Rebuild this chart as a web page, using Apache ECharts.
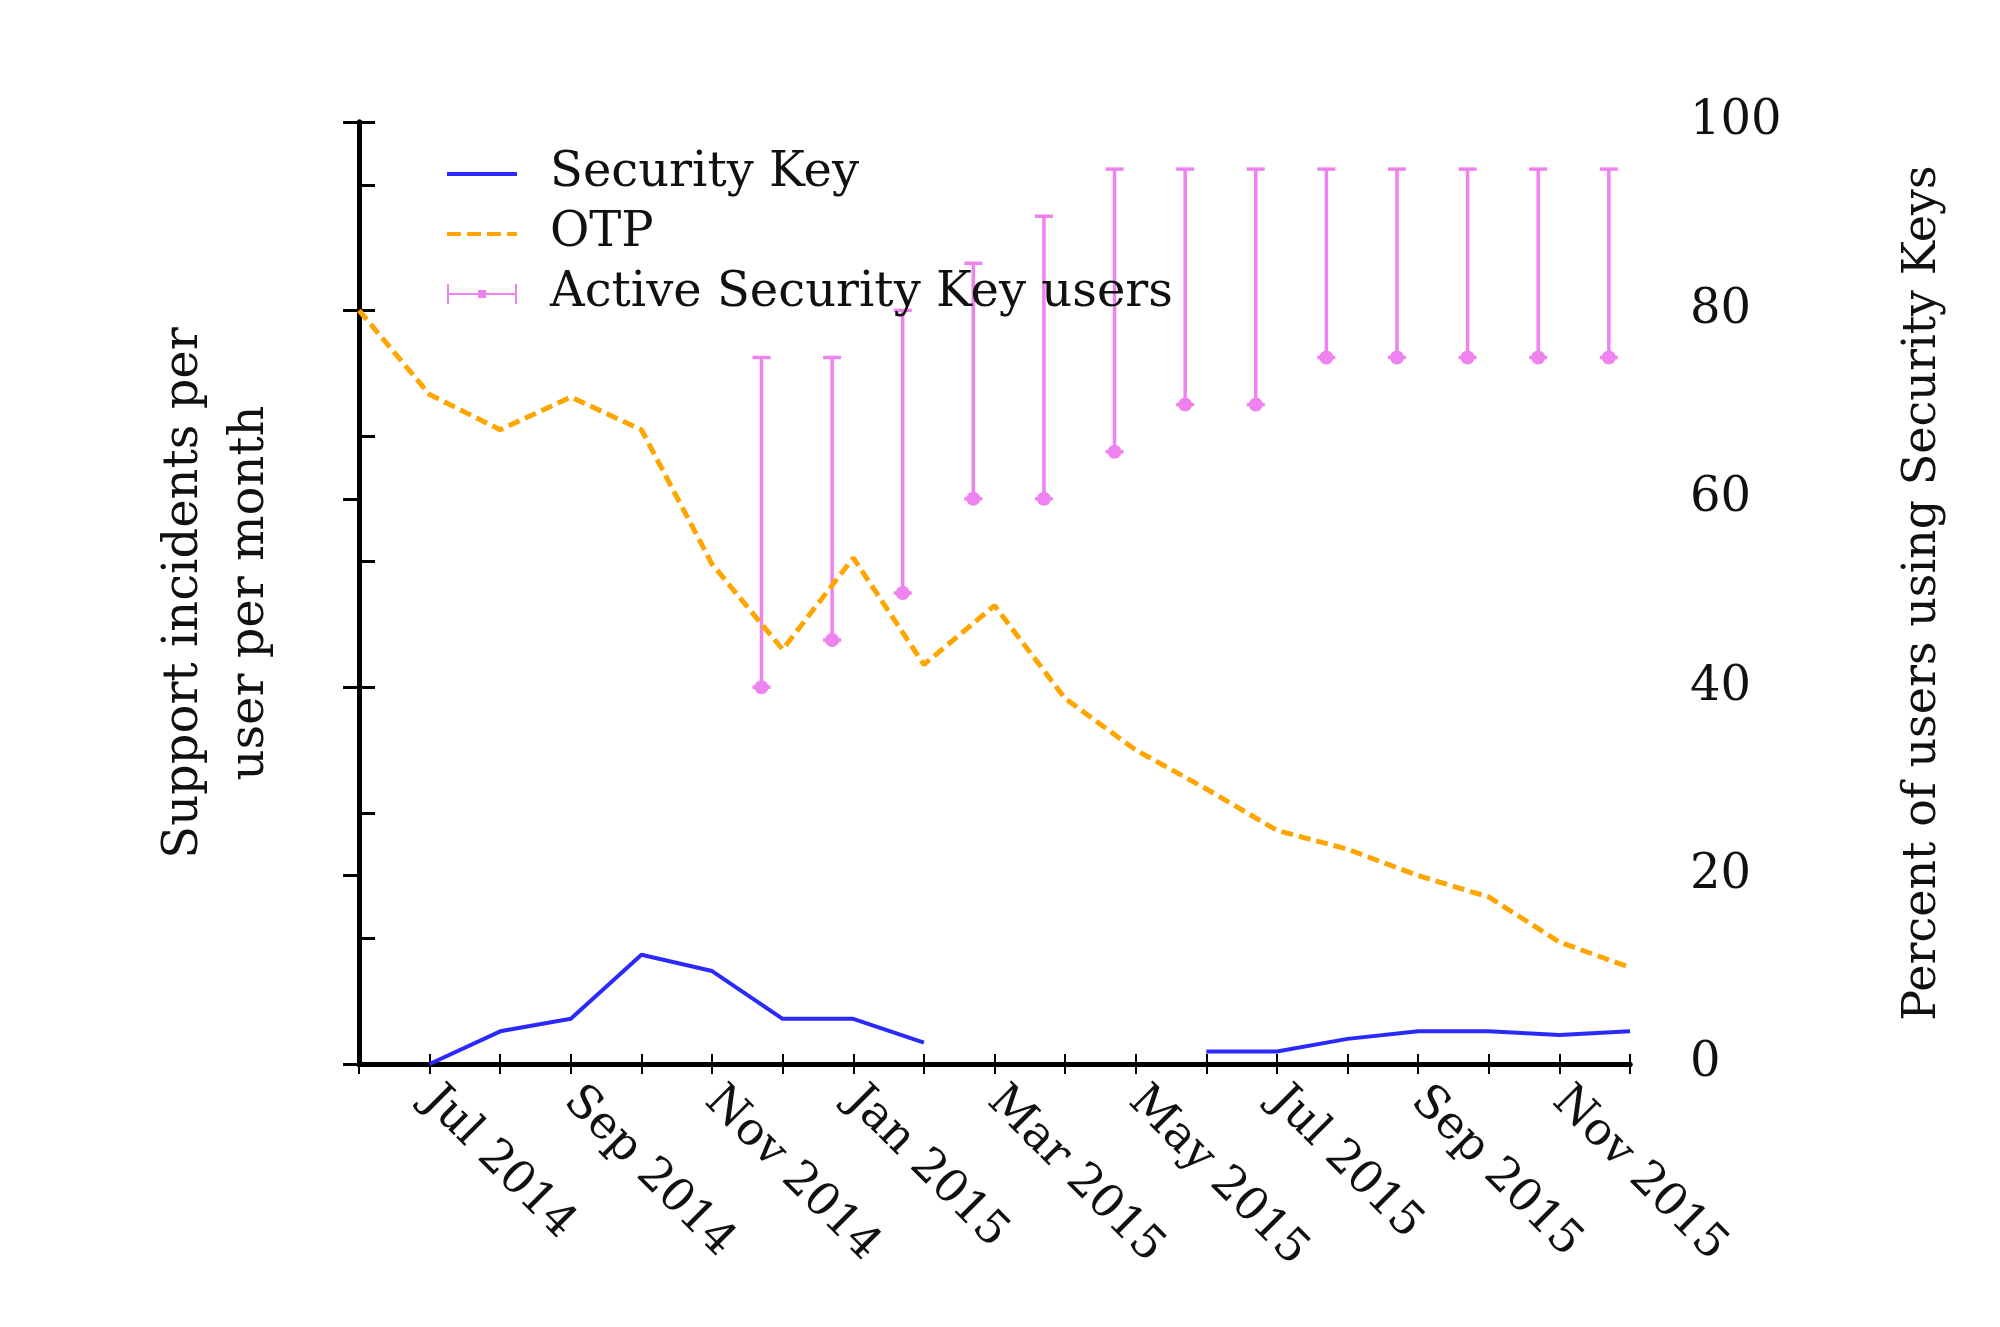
<!DOCTYPE html>
<html>
<head>
<meta charset="utf-8">
<script src="https://cdn.jsdelivr.net/npm/echarts@6/dist/echarts.min.js"></script>
<style>html,body{margin:0;background:#fff}#chart{width:2000px;height:1327px}</style>
</head>
<body>
<div id="chart"></div>
<script>
// 月份标签 (x = 0 为 Jun 2014)
var months = ['Jun 2014', 'Jul 2014', 'Aug 2014', 'Sep 2014', 'Oct 2014', 'Nov 2014', 'Dec 2014',
  'Jan 2015', 'Feb 2015', 'Mar 2015', 'Apr 2015', 'May 2015', 'Jun 2015', 'Jul 2015', 'Aug 2015',
  'Sep 2015', 'Oct 2015', 'Nov 2015', 'Dec 2015'];
var otp = [6.0, 5.33, 5.05, 5.31, 5.05, 3.98, 3.3, 4.03, 3.18, 3.65, 2.91, 2.5, 2.19, 1.86, 1.71, 1.5, 1.33, 0.97, 0.77];
var securityKey = [null, 0, 0.26, 0.36, 0.87, 0.74, 0.36, 0.36, 0.17, null, null, null, 0.1, 0.1, 0.2, 0.26, 0.26, 0.23, 0.26];
// 用户比例误差线
var activeX = [5.7, 6.7, 7.7, 8.7, 9.7, 10.7, 11.7, 12.7, 13.7, 14.7, 15.7, 16.7, 17.7];
var activeLow = [40, 45, 50, 60, 60, 65, 70, 70, 75, 75, 75, 75, 75];
var activeHigh = [75, 75, 80, 85, 90, 95, 95, 95, 95, 95, 95, 95, 95];

(function () {
  var myChart = echarts.init(document.getElementById('chart'));
  var font = 'DejaVu Serif';
  var violet = '#ee82ee';
  var errData = activeX.map(function (x, i) { return [x, activeLow[i], activeHigh[i]]; });
  var axisLine = { show: true, lineStyle: { color: '#000', width: 5 } };
  var option = {
    animation: false,
    textStyle: { fontFamily: font },
    grid: { left: 359, right: 370, top: 122, bottom: 263 },
    legend: {
      orient: 'vertical', left: 442, top: 145, itemGap: 12, itemWidth: 70, itemHeight: 24,
      textStyle: { fontFamily: font, fontSize: 48, color: '#111', padding: [0, 0, 0, 28] },
      data: [
        { name: 'Security Key', icon: 'path://M0,10 L70,10 L70,14 L0,14 Z' },
        { name: 'OTP', icon: 'path://M0,10 L14,10 L14,14 L0,14 Z M20,10 L34,10 L34,14 L20,14 Z M40,10 L54,10 L54,14 L40,14 Z M60,10 L70,10 L70,14 L60,14 Z' },
        { name: 'Active Security Key users', icon: 'path://M0,11 L70,11 L70,13 L0,13 Z M0,2 L2,2 L2,22 L0,22 Z M68,2 L70,2 L70,22 L68,22 Z M31,8 L39,8 L39,16 L31,16 Z' }
      ]
    },
    xAxis: [
      {
        type: 'value', min: 0, max: 18, interval: 1,
        axisLine: axisLine,
        axisTick: { inside: true, length: 10, lineStyle: { color: '#000', width: 2 } },
        splitLine: { show: false },
        axisLabel: {
          rotate: -45, fontSize: 46, color: '#111', margin: 30, align: 'left',
          formatter: function (v) { return v % 2 === 1 ? months[v] : ''; }
        }
      },
      {
        type: 'value', min: 0, max: 18, interval: 1, position: 'top',
        axisLine: axisLine,
        axisTick: { inside: true, length: 10, lineStyle: { color: '#000', width: 2 } },
        splitLine: { show: false }, axisLabel: { show: false }
      }
    ],
    yAxis: [
      {
        type: 'value', min: 0, max: 7.5, interval: 1,
        name: 'Support incidents per\nuser per month', nameLocation: 'middle', nameGap: 75,
        nameTextStyle: { fontSize: 48, color: '#111', lineHeight: 66 },
        axisLine: axisLine,
        axisTick: { inside: true, length: 16, lineStyle: { color: '#000', width: 3 } },
        axisLabel: { show: false },
        splitLine: { show: false }
      },
      {
        type: 'value', min: 0, max: 100, interval: 20, position: 'right',
        name: 'Percent of users using Security Keys', nameLocation: 'middle', nameGap: 270,
        nameTextStyle: { fontSize: 46, color: '#111' },
        axisLine: axisLine,
        axisTick: { inside: true, length: 16, lineStyle: { color: '#000', width: 3 } },
        axisLabel: { fontSize: 48, color: '#111', margin: 60 },
        splitLine: { show: false }
      }
    ],
    series: [
      {
        name: 'Security Key', type: 'line', yAxisIndex: 0, showSymbol: false,
        lineStyle: { color: '#2a2aff', width: 4 }, itemStyle: { color: '#2a2aff' },
        data: securityKey.map(function (v, i) { return [i, v]; })
      },
      {
        name: 'OTP', type: 'line', yAxisIndex: 0, showSymbol: false,
        lineStyle: { color: '#ffa500', width: 5, type: [12, 6] }, itemStyle: { color: '#ffa500' },
        data: otp.map(function (v, i) { return [i, v]; })
      },
      {
        name: 'Active Security Key users', type: 'custom', yAxisIndex: 1,
        itemStyle: { color: violet },
        renderItem: function (params, api) {
          var lo = api.coord([api.value(0), api.value(1)]);
          var hi = api.coord([api.value(0), api.value(2)]);
          var s = { stroke: violet, lineWidth: 3.5 };
          return {
            type: 'group', children: [
              { type: 'line', shape: { x1: lo[0], y1: lo[1], x2: hi[0], y2: hi[1] }, style: s },
              { type: 'line', shape: { x1: lo[0] - 9, y1: lo[1], x2: lo[0] + 9, y2: lo[1] }, style: s },
              { type: 'line', shape: { x1: hi[0] - 9, y1: hi[1], x2: hi[0] + 9, y2: hi[1] }, style: s },
              { type: 'circle', shape: { cx: lo[0], cy: lo[1], r: 7 }, style: { fill: violet } }
            ]
          };
        },
        encode: { x: 0, y: [1, 2] },
        data: errData
      }
    ]
  };
  myChart.setOption(option);
})();
</script>
</body>
</html>
